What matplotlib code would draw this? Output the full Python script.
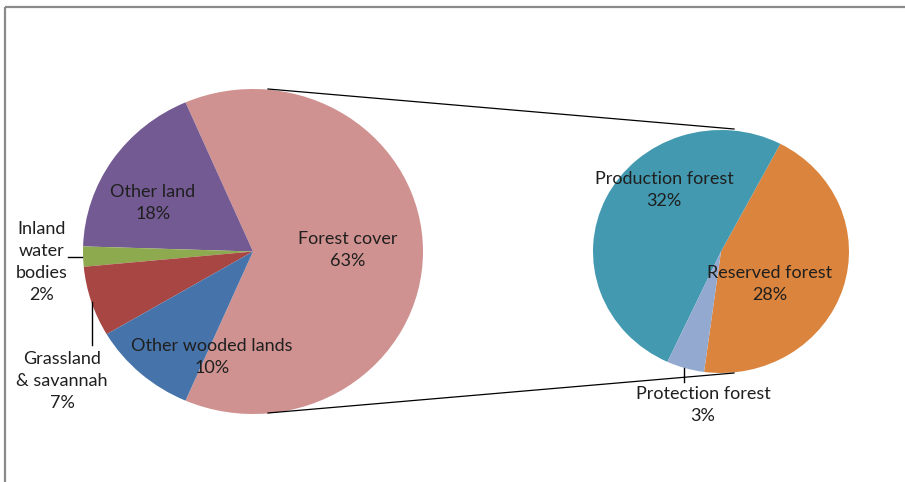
import matplotlib.pyplot as plt

# main pie (share of land area, %)
main_labels = ["Forest cover", "Other land", "Inland\nwater\nbodies", "Grassland\n& savannah", "Other wooded lands"]
main_values = [63, 18, 2, 7, 10]
main_colors = ["#D09290", "#735A92", "#8EAA4E", "#A84644", "#4673A9"]

# secondary pie: forest cover broken down (%)
sub_labels = ["Reserved forest", "Production forest", "Protection forest"]
sub_values = [28, 32, 3]
sub_colors = ["#DB843D", "#4299B0", "#93A9CF"]

W, H = 905, 482
fig = plt.figure(figsize=(W / 100, H / 100), dpi=100)
fig.patch.set_facecolor("white")

def px_axes(x0, y0, w, h):
    # axes placed in pixel coords, y measured from top
    return fig.add_axes([x0 / W, 1 - (y0 + h) / H, w / W, h / H])

# left pie (slightly squashed vertically like the original)
ax1 = px_axes(83, 89, 340, 325)
ax1.pie(main_values, colors=main_colors, startangle=-113.4, counterclock=True,
        radius=1, wedgeprops=dict(linewidth=0))
ax1.set_aspect("auto")
ax1.set_xlim(-1, 1)
ax1.set_ylim(-1, 1)
ax1.axis("off")

ax2 = px_axes(593, 130, 256, 243)
ax2.pie(sub_values, colors=sub_colors, startangle=-97.6, counterclock=True,
        radius=1, wedgeprops=dict(linewidth=0))
ax2.set_aspect("auto")
ax2.set_xlim(-1, 1)
ax2.set_ylim(-1, 1)
ax2.axis("off")

# overlay for frame, connector lines, labels (drawn on top of the pies)
ov = px_axes(0, 0, W, H)
ov.set_xlim(0, W)
ov.set_ylim(H, 0)
ov.axis("off")
ov.patch.set_alpha(0)
ov.set_zorder(10)

# frame (cropped chart border)
ov.plot([5, W], [7, 7], color="#8a8a8a", lw=1.6, solid_capstyle="butt")
ov.plot([5, 5], [7, H], color="#8a8a8a", lw=1.6, solid_capstyle="butt")

# connector lines between the pies
ov.plot([268, 734], [89, 129], color="black", lw=0.9)
ov.plot([268, 734], [413, 373], color="black", lw=0.9)

# leader lines
ov.plot([68, 82], [257, 257], color="black", lw=1)
ov.plot([92, 92], [302, 345], color="black", lw=1)
ov.plot([684, 684], [368, 382], color="black", lw=1)

fnt = dict(family="Lato", fontsize=13, color="#1f1f1f", ha="center", va="center",
           linespacing=1.45)

def lab(x, y, name, val):
    ov.text(x, y, name + "\n" + str(val) + "%", **fnt)

lab(348, 250, main_labels[0], main_values[0])
lab(153, 203, main_labels[1], main_values[1])
lab(42, 262, main_labels[2], main_values[2])
lab(62, 381, main_labels[3], main_values[3])
lab(212, 357, main_labels[4], main_values[4])
lab(770, 284, sub_labels[0], sub_values[0])
lab(664, 190, sub_labels[1], sub_values[1])
lab(703, 405, sub_labels[2], sub_values[2])

fig.savefig("out.png", dpi=100)
